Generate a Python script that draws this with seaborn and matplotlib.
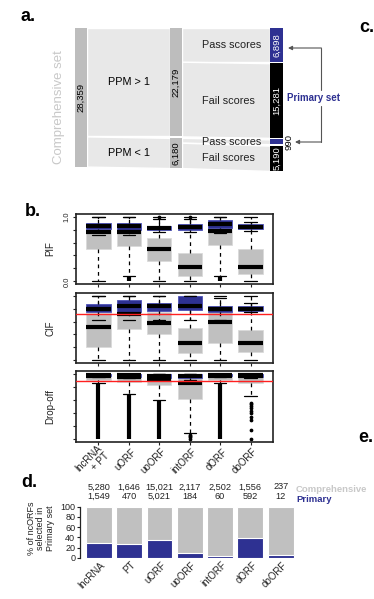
import numpy as np
import pandas as pd
import matplotlib
matplotlib.use("Agg")
import matplotlib.pyplot as plt
import matplotlib.transforms as mtransforms
import seaborn as sns

sns.set_theme(style="ticks")
plt.rcParams['font.family'] = ['Liberation Sans', 'DejaVu Sans']

W, H = 374, 599
BLUE = '#2e3192'
GRAY = '#c0c0c0'
FLOW = '#e8e8e8'
NODE = '#bdbdbd'
LIGHT = '#c8c8c8'

# ---------------- Panel a data ----------------
total_count = 28359
ppm_counts = [22179, 6180]
ppm_labels = ['PPM > 1', 'PPM < 1']
score_counts = [6898, 15281, 990, 5190]
score_labels = ['Pass scores', 'Fail scores', 'Pass scores', 'Fail scores']
score_pass = [True, False, True, False]

# ---------------- Panel b data ----------------
box_cats = ['lncRNA\n+ PT', 'uORF', 'uoORF', 'intORF', 'dORF', 'doORF']

pif_comp = dict(lo=[0.0, 0.08, 0.0, 0.0, 0.08, 0.0],
                q1=[0.50, 0.54, 0.32, 0.09, 0.56, 0.12],
                med=[0.77, 0.76, 0.50, 0.23, 0.78, 0.23],
                q3=[0.86, 0.86, 0.67, 0.44, 0.88, 0.50],
                hi=[1.0, 1.0, 1.0, 1.0, 1.0, 1.0])
pif_prim = dict(lo=[0.72, 0.72, 0.77, 0.77, 0.75, 0.78],
                q1=[0.81, 0.80, 0.79, 0.79, 0.83, 0.81],
                med=[0.85, 0.85, 0.83, 0.84, 0.88, 0.84],
                q3=[0.90, 0.90, 0.85, 0.88, 0.94, 0.88],
                hi=[1.0, 1.0, 0.96, 0.97, 1.0, 0.92])
pif_prim_fliers = [[], [], [1.0], [1.0], [], []]
pif_comp_flier_span = [None, (0.0, 0.07), None, None, (0.0, 0.07), None]

cif_comp = dict(lo=[0.0, 0.0, 0.0, 0.0, 0.0, 0.0],
                q1=[0.20, 0.485, 0.40, 0.115, 0.265, 0.135],
                med=[0.515, 0.715, 0.57, 0.275, 0.595, 0.275],
                q3=[0.725, 0.75, 0.75, 0.50, 0.765, 0.475],
                hi=[1.0, 1.0, 1.0, 1.0, 1.0, 1.0])
cif_prim = dict(lo=[0.62, 0.62, 0.62, 0.62, 0.62, 0.74],
                q1=[0.75, 0.75, 0.765, 0.785, 0.75, 0.76],
                med=[0.80, 0.84, 0.84, 0.845, 0.79, 0.79],
                q3=[0.875, 0.925, 0.885, 1.0, 0.835, 0.835],
                hi=[1.0, 1.0, 1.0, 1.0, 0.97, 0.89])
cif_threshold = 0.71

drop_comp = dict(lo=[0.865, 0.69, 0.60, 0.10, 0.85, 0.66],
                 q1=[0.90, 0.875, 0.825, 0.615, 0.90, 0.85],
                 med=[0.97, 0.95, 0.925, 0.85, 0.97, 0.96],
                 q3=[1.0, 1.0, 1.0, 0.95, 1.0, 1.0],
                 hi=[1.0, 1.0, 1.0, 1.0, 1.0, 1.0])
drop_prim = dict(lo=[0.95, 0.93, 0.92, 0.90, 0.95, 0.94],
                 q1=[0.96, 0.95, 0.94, 0.93, 0.96, 0.95],
                 med=[0.985, 0.98, 0.97, 0.96, 0.985, 0.98],
                 q3=[1.0, 1.0, 1.0, 1.0, 1.0, 1.0],
                 hi=[1.0, 1.0, 1.0, 1.0, 1.0, 1.0])
drop_comp_fliers = [[], [], [], [0.07, 0.05, 0.03, 0.01], [],
                    [0.56, 0.535, 0.51, 0.475, 0.435, 0.40, 0.34, 0.30, 0.14, 0.0]]
drop_comp_flier_span = [(0.0, 0.86), (0.0, 0.68), (0.0, 0.59), None, (0.0, 0.84), None]
drop_threshold = 0.89

# ---------------- Panel d data ----------------
bar_cats = ['lncRNA', 'PT', 'uORF', 'uoORF', 'intORF', 'dORF', 'doORF']
comp_counts = [5280, 1646, 15021, 2117, 2502, 1556, 237]
prim_counts = [1549, 470, 5021, 184, 60, 592, 12]
prim_pct = [29, 26, 34, 9, 2.5, 38, 5]

# ---------------- figure ----------------
fig = plt.figure(figsize=(W / 100, H / 100), dpi=100)


def ax_px(l, t, r, b):
    return fig.add_axes([l / W, 1 - b / H, (r - l) / W, (b - t) / H])


def shift_labels(labels, dx_px, dy_px):
    off = mtransforms.ScaledTranslation(dx_px / 100, -dy_px / 100, fig.dpi_scale_trans)
    for lab in labels:
        lab.set_transform(lab.get_transform() + off)


# ---------- Panel a: flow diagram ----------
axa = ax_px(75, 28, 283, 171)
gap = 300
x0, x1, x2 = (0, 12), (95, 107), (195, 208)
left_seg = (0, total_count)
mid_segs = [(0, ppm_counts[0]), (ppm_counts[0] + gap, ppm_counts[0] + ppm_counts[1] + gap)]
right_segs = []
y = 0
for i, c in enumerate(score_counts):
    right_segs.append((y, y + c))
    y += c + gap
mid_sub = []
m0 = mid_segs[0][0]
mid_sub.append((m0, m0 + score_counts[0]))
mid_sub.append((m0 + score_counts[0], mid_segs[0][1]))
m1 = mid_segs[1][0]
mid_sub.append((m1, m1 + score_counts[2]))
mid_sub.append((m1 + score_counts[2], mid_segs[1][1]))
left_sub = [(0, ppm_counts[0]), (ppm_counts[0], total_count)]

for (la, lb), (ma, mb) in zip(left_sub, mid_segs):
    axa.fill_between([x0[1], x1[0]], [la, ma], [lb, mb], color=FLOW,
                     edgecolor='white', linewidth=1.0)
for (ma, mb), (ra, rb) in zip(mid_sub, right_segs):
    axa.fill_between([x1[1], x2[0]], [ma, ra], [mb, rb], color=FLOW,
                     edgecolor='white', linewidth=1.0)
axa.bar((x0[0] + x0[1]) / 2, left_seg[1] - left_seg[0], bottom=left_seg[0],
        width=x0[1] - x0[0], color=NODE, linewidth=0)
axa.text((x0[0] + x0[1]) / 2, sum(left_seg) / 2, f"{total_count:,}", rotation=90,
         ha='center', va='center', fontsize=6.8, color='black')
for (a, b), c, lab in zip(mid_segs, ppm_counts, ppm_labels):
    axa.bar((x1[0] + x1[1]) / 2, b - a, bottom=a, width=x1[1] - x1[0], color=NODE, linewidth=0)
    axa.text((x1[0] + x1[1]) / 2, (a + b) / 2, f"{c:,}", rotation=90,
             ha='center', va='center', fontsize=6.8, color='black')
    axa.text((x0[1] + x1[0]) / 2, (a + b) / 2, lab, ha='center', va='center',
             fontsize=7.8, color='black')
for (a, b), c, lab, ps in zip(right_segs, score_counts, score_labels, score_pass):
    col = BLUE if ps else 'black'
    axa.bar((x2[0] + x2[1]) / 2, b - a, bottom=a, width=x2[1] - x2[0], color=col, linewidth=0)
    if c > 2000:
        axa.text((x2[0] + x2[1]) / 2, (a + b) / 2, f"{c:,}", rotation=90,
                 ha='center', va='center', fontsize=6.8, color='white')
    else:
        axa.text(x2[1] + 2, (a + b) / 2, f"{c:,}", rotation=90,
                 ha='left', va='center', fontsize=6.8, color='black')
    axa.text(127, (a + b) / 2, lab, ha='left', va='center', fontsize=7.8, color='#222222')
axa.set_xlim(0, 208)
axa.set_ylim(right_segs[-1][1], 0)
axa.axis('off')

# ---------- Panel b: box plots ----------
positions = np.arange(1, len(box_cats) + 1)


def make_stats(s, fliers=None):
    out = []
    for i in range(len(s['med'])):
        out.append(dict(med=s['med'][i], q1=s['q1'][i], q3=s['q3'][i],
                        whislo=s['lo'][i], whishi=s['hi'][i],
                        fliers=(fliers[i] if fliers is not None else [])))
    return out


common = dict(positions=positions, widths=0.8, patch_artist=True, showfliers=True,
              capwidths=0.4,
              medianprops=dict(color='black', linewidth=3.0, solid_capstyle='butt'),
              whiskerprops=dict(color='black', linewidth=0.9, linestyle=(0, (3, 3))),
              capprops=dict(color='black', linewidth=0.9),
              flierprops=dict(marker='o', markersize=1.7, markerfacecolor='black',
                              markeredgecolor='black', linestyle='none'))


def draw_panel(ax, comp, prim, comp_fliers=None, prim_fliers=None, span=None, thr=None):
    ax.bxp(make_stats(comp, comp_fliers),
           boxprops=dict(facecolor=GRAY, edgecolor='#dadada', linewidth=0.6), **common)
    if span is not None:
        for p, sp in zip(positions, span):
            if sp is not None:
                ax.vlines(p, sp[0], sp[1], color='black', linewidth=3.0, zorder=3)
    ax.bxp(make_stats(prim, prim_fliers),
           boxprops=dict(facecolor=BLUE, edgecolor='#4b50b5', linewidth=0.6), **common)
    if thr is not None:
        ax.axhline(thr, color='#ff2020', linewidth=1.0, zorder=6)
    ax.set_xlim(0.26, 6.74)
    ax.set_ylim(-0.04, 1.04)
    ax.set_yticks([0, 0.2, 0.4, 0.6, 0.8, 1.0])
    ax.set_yticklabels([])
    ax.set_xticks(positions)
    ax.set_xticklabels([])
    ax.tick_params(axis='both', direction='out', length=2.5, width=0.8, pad=1.5,
                   colors='#222222', labelsize=5.5)
    for s in ax.spines.values():
        s.set_linewidth(1.2)
        s.set_color('#222222')
    ax.set_facecolor('white')


ax_pif = ax_px(76, 214, 273, 284)
ax_cif = ax_px(76, 293, 273, 363)
ax_drop = ax_px(76, 371, 273, 442)
draw_panel(ax_pif, pif_comp, pif_prim, prim_fliers=pif_prim_fliers, span=pif_comp_flier_span)
draw_panel(ax_cif, cif_comp, cif_prim, thr=cif_threshold)
draw_panel(ax_drop, drop_comp, drop_prim, comp_fliers=drop_comp_fliers,
           span=drop_comp_flier_span, thr=drop_threshold)
ax_pif.set_yticklabels(['0.0', '', '', '', '', '1.0'], rotation=90, va='center')
xl = ax_drop.set_xticklabels(box_cats, rotation=45, ha='right', va='center',
                             rotation_mode='anchor', fontsize=7, multialignment='right',
                             linespacing=1.0)
ax_drop.tick_params(axis='x', pad=2)
shift_labels(ax_drop.get_xticklabels(), 5.5, 2)
for ax, lab in [(ax_pif, 'PIF'), (ax_cif, 'CIF'), (ax_drop, 'Drop-off')]:
    ax.set_ylabel(lab, fontsize=7, color='#222222')
    ax.yaxis.set_label_coords(-0.105, 0.5)

# ---------- Panel d: stacked percentage bars ----------
axd = ax_px(80, 506.7, 297, 557.7)
sns.barplot(x=bar_cats, y=[100] * len(bar_cats), color=GRAY, width=0.85, saturation=1,
            edgecolor='white', linewidth=0.8, ax=axd)
sns.barplot(x=bar_cats, y=prim_pct, color=BLUE, width=0.85, saturation=1,
            edgecolor='white', linewidth=0.8, ax=axd)
axd.set_xlim(-0.62, 6.54)
axd.set_ylim(0, 100)
axd.set_yticks([0, 20, 40, 60, 80, 100])
axd.tick_params(axis='y', labelsize=6.5, length=2.5, width=0.8, pad=1, colors='#222222')
axd.tick_params(axis='x', length=0, pad=2)
axd.set_xticks(range(len(bar_cats)))
axd.set_xticklabels(bar_cats, rotation=45, ha='right', va='center', rotation_mode='anchor',
                    fontsize=7)
shift_labels(axd.get_xticklabels(), 5, 3)
for sname in ['top', 'right', 'bottom']:
    axd.spines[sname].set_visible(False)
axd.spines['left'].set_linewidth(0.9)
axd.spines['left'].set_color('#222222')
axd.set_xlabel('')
axd.set_ylabel('')
for i, (c, p) in enumerate(zip(comp_counts, prim_counts)):
    axd.text(i, 1.34, f"{c:,}", transform=axd.get_xaxis_transform(), ha='center',
             va='baseline', fontsize=6.6, color='#222222')
    axd.text(i, 1.16, f"{p:,}", transform=axd.get_xaxis_transform(), ha='center',
             va='baseline', fontsize=6.6, color='#222222')

# ---------- overlay: letters and annotations ----------
ov = fig.add_axes([0, 0, 1, 1], facecolor='none')
ov.set_xlim(0, W)
ov.set_ylim(H, 0)
ov.axis('off')
for lab, x, yb in [('a.', 21, 21), ('b.', 25, 216), ('c.', 359, 32), ('d.', 21, 487), ('e.', 358, 442)]:
    ov.text(x, yb, lab, fontsize=13, fontweight='bold', ha='left', va='baseline', color='black')
ov.text(59, 107, 'Comprehensive set', rotation=90, ha='center', va='center',
        fontsize=9.5, color=LIGHT)
ov.text(314, 98, 'Primary set', ha='center', va='center', fontsize=7, fontweight='bold',
        color=BLUE)
ov.plot([321, 321], [48, 90], color='#555555', lw=0.8)
ov.plot([321, 321], [106, 142], color='#555555', lw=0.8)
ov.annotate('', xy=(288, 48), xytext=(321.4, 48),
            arrowprops=dict(arrowstyle='-|>', color='#555555', lw=0.8, mutation_scale=6,
                            shrinkA=0, shrinkB=0))
ov.annotate('', xy=(295, 142), xytext=(321.4, 142),
            arrowprops=dict(arrowstyle='-|>', color='#555555', lw=0.8, mutation_scale=6,
                            shrinkA=0, shrinkB=0))
ov.text(296, 490, 'Comprehensive', fontsize=6.8, fontweight='bold', color=LIGHT,
        ha='left', va='center')
ov.text(296, 499, 'Primary', fontsize=6.8, fontweight='bold', color=BLUE,
        ha='left', va='center')
ov.text(41, 528, '% of ncORFs\nselected in\nPrimary set', rotation=90, ha='center',
        va='center', fontsize=6.5, color='#222222', linespacing=1.05)

fig.savefig('out.png', dpi=100)
